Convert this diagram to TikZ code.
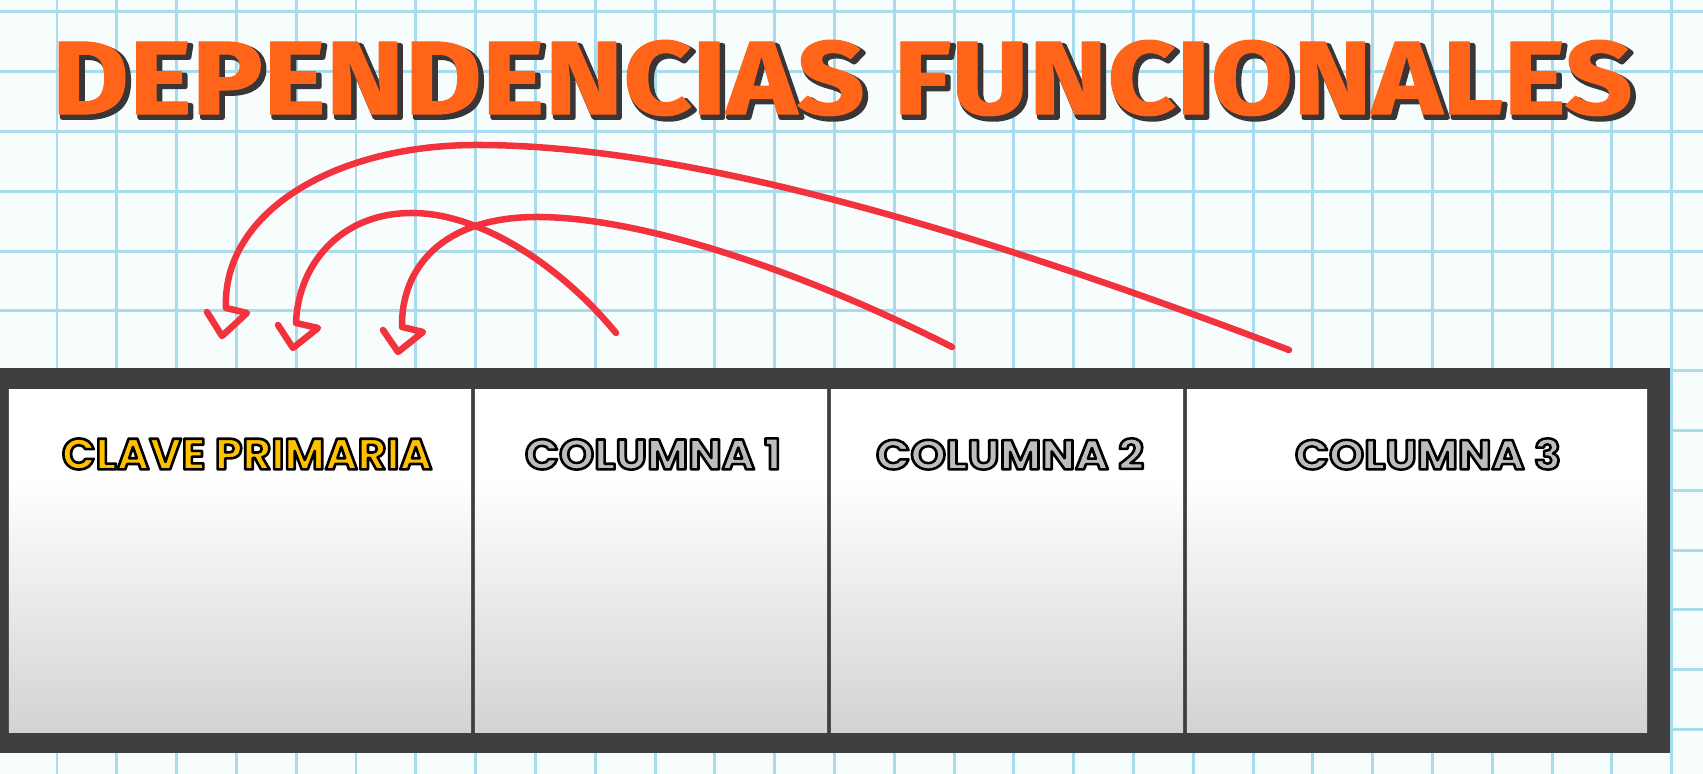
\documentclass[tikz,border=0pt]{standalone}
\usepackage{fontspec}
\newfontfamily\titlefont{Fira Sans}
\newfontfamily\headfont{Poppins}
\definecolor{gridblue}{HTML}{A8DCEC}
\definecolor{paper}{HTML}{F7FCFD}
\definecolor{titleorange}{HTML}{FF6418}
\definecolor{titleshadow}{HTML}{3A3536}
\definecolor{framegray}{HTML}{3F3F41}
\definecolor{keyyellow}{HTML}{FFC000}
\definecolor{colgray}{HTML}{BDBDBD}
\definecolor{arrowred}{HTML}{F2333D}
\definecolor{cellbot}{HTML}{D3D3D3}
\pgfdeclareverticalshading{cellshade}{100bp}{color(0bp)=(cellbot); color(25bp)=(cellbot); color(62bp)=(white); color(100bp)=(white)}
\tikzset{
  gridline/.style={draw=gridblue, line width=0.85pt},
  txt/.style={inner sep=0pt, outer sep=0pt, anchor=center},
  tablebox/.style={fill=framegray, inner sep=0pt, minimum height=3.85cm, minimum width=16.79cm},
  cellbox/.style={shading=cellshade, inner sep=0pt, minimum height=3.42cm},
  arr/.style={draw=arrowred, line width=1.85pt, line cap=round, line join=round}
}
% text drawn filled and stroked: #1 PDF stroke colour operator, #2 stroke width
\newcommand\strokeon[2]{\special{pdf:literal direct #1 1 j #2 w 2 Tr}}
\newcommand\strokeoff{\special{pdf:literal direct 0 Tr}}
\newcommand\headtext[2]{\resizebox{#1}{0.31cm}{\headfont\bfseries\strokeon{0 G}{0.6}#2\strokeoff}}
\newcommand\titletext[1]{\resizebox{15.80cm}{0.74cm}{\titlefont\bfseries #1DEPENDENCIAS FUNCIONALES\strokeoff}}
\begin{document}
\begin{tikzpicture}[x=0.01cm,y=-0.01cm]
\useasboundingbox (0,0) rectangle (1703,774);
\fill[paper] (0,0) rectangle (1703,774);
% grid paper
\foreach \k in {-1,...,28}{\draw[gridline] ({57+59.8*\k},0) -- ({57+59.8*\k},774);}
\foreach \k in {0,...,12}{\draw[gridline] (0,{12+59.8*\k}) -- (1703,{12+59.8*\k});}
% title with its shadow
\node[txt, text=titleshadow] (tshadow) at (845.5,81.5) {\titletext{\strokeon{0.227 0.208 0.212 RG}{0.45}}};
\node[txt, text=titleorange] (title) at (842,78) {\titletext{\strokeon{1 0.392 0.094 RG}{0.1}}};
% table
\node[tablebox] (table) at (829.5,560.5) {};
\node[cellbox, minimum width=4.62cm] (c1) at (240,561) {};
\node[cellbox, minimum width=3.52cm] (c2) at (651,561) {};
\node[cellbox, minimum width=3.52cm] (c3) at (1007,561) {};
\node[cellbox, minimum width=4.60cm] (c4) at (1417,561) {};
% headers
\node[txt, text=keyyellow] (h1) at (247,454) {\headtext{3.70cm}{CLAVE PRIMARIA}};
\node[txt, text=colgray] (h2) at (653,454) {\headtext{2.56cm}{COLUMNA 1}};
\node[txt, text=colgray] (h3) at (1010,454) {\headtext{2.68cm}{COLUMNA 2}};
\node[txt, text=colgray] (h4) at (1428,454) {\headtext{2.66cm}{COLUMNA 3}};
% arrows: tail, peak, end of shaft, tip of the hand-drawn head
\coordinate (tA) at (1289,350); \coordinate (pA) at (477,145); \coordinate (sA) at (226,308); \coordinate (eA) at (222,336);
\coordinate (tB) at (952,347);  \coordinate (pB) at (537,217); \coordinate (sB) at (402,327); \coordinate (eB) at (398,352);
\coordinate (tC) at (616,333);  \coordinate (pC) at (412,213); \coordinate (sC) at (296,323); \coordinate (eC) at (293,348);
\draw[arr] (tA) .. controls (1000,240) and (700,145) .. (pA) .. controls (330,145) and (222,215) .. (sA) -- ++(21,5) -- (eA) -- ++(-15,-24);
\draw[arr] (tB) .. controls (800,270) and (640,217) .. (pB) .. controls (440,217) and (401,270) .. (sB) -- ++(21,5) -- (eB) -- ++(-15,-22);
\draw[arr] (tC) .. controls (560,265) and (480,213) .. (pC) .. controls (340,213) and (298,265) .. (sC) -- ++(22,5) -- (eC) -- ++(-15,-23);
\end{tikzpicture}
\end{document}
